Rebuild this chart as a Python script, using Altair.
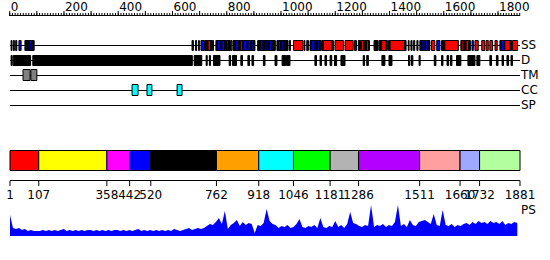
import altair as alt
import pandas as pd

# ---------------- data ----------------
ruler_minor = list(range(0, 1881, 10))
ruler_major = list(range(0, 1881, 100))
ruler_labels = [0, 200, 400, 600, 800, 1000, 1200, 1400, 1600, 1800]

track_names = ["SS", "D", "TM", "CC", "SP"]

ss_start = [5, 13, 22, 34, 56, 64, 74, 87, 672, 685, 696, 705, 720, 731, 747,
            760, 766, 782, 799, 814, 823, 833, 850, 862, 878, 893,
            914, 924, 941, 958, 985, 991, 1001, 1015, 1031, 1046, 1085, 1095,
            1107, 1113, 1135, 1150, 1156, 1199, 1236, 1271, 1285, 1297, 1315,
            1343, 1362, 1371, 1396, 1402, 1469, 1479, 1489, 1501,
            1512, 1519, 1533, 1555, 1574, 1592, 1604, 1663, 1667, 1682,
            1704, 1715, 1740, 1756, 1770, 1789, 1807, 1812, 1825, 1853]
ss_end = [8, 17, 26, 42, 86, 69, 80, 90, 677, 689, 699, 718, 745, 740, 751,
          812, 775, 792, 806, 819, 904, 843, 857, 874, 887, 900,
          979, 933, 948, 967, 1026, 998, 1008, 1018, 1035, 1081, 1088, 1101,
          1147, 1125, 1141, 1193, 1187, 1230, 1266, 1278, 1326, 1304, 1322,
          1358, 1392, 1386, 1461, 1455, 1472, 1483, 1493, 1505,
          1549, 1525, 1540, 1567, 1586, 1653, 1653, 1698, 1674, 1691,
          1709, 1727, 1751, 1764, 1780, 1797, 1850, 1821, 1844, 1872]
ss_type = ["C", "C", "C", "E", "C", "E", "E", "C", "C", "C", "C", "E", "C", "H", "C",
           "C", "E", "E", "E", "H", "C", "E", "H", "E", "E", "E",
           "C", "E", "E", "E", "C", "E", "E", "H", "C", "H", "C", "E",
           "C", "E", "E", "C", "H", "H", "H", "E", "C", "H", "H",
           "C", "C", "H", "C", "H", "C", "C", "C", "C",
           "C", "E", "E", "H", "E", "C", "H", "C", "H", "H",
           "E", "H", "H", "H", "H", "H", "C", "E", "H", "H"]

d_start = [5, 13, 85, 680, 724, 736, 751, 809, 821, 852, 878, 893, 935, 978,
           1004, 1020, 1125, 1144, 1162, 1181, 1197, 1221, 1303, 1316, 1372,
           1398, 1470, 1481, 1509, 1565, 1592, 1612, 1625, 1647, 1689, 1722,
           1770, 1794, 1815, 1833, 1848]
d_end = [9, 77, 673, 708, 728, 740, 775, 814, 836, 858, 884, 899, 941, 985,
         1017, 1033, 1131, 1149, 1168, 1187, 1205, 1236, 1308, 1322, 1383,
         1409, 1475, 1486, 1513, 1571, 1597, 1618, 1630, 1663, 1715, 1733,
         1776, 1800, 1820, 1839, 1853]

tm_start = [49, 78]
tm_end = [75, 100]

cc_start = [451, 506, 617]
cc_end = [473, 524, 635]

dom_bounds = [1, 107, 358, 442, 520, 762, 918, 1046, 1181, 1286, 1511, 1660, 1732, 1881]
dom_names = ["d1", "d2", "d3", "d4", "d5", "d6", "d7", "d8", "d9", "d10", "d11", "d12", "d13"]

ps_pos = list(range(1, 1882, 11))
ps_val = [21, 8, 7, 8, 6, 7, 5, 6, 5, 5, 5, 6, 5, 6, 5, 6, 5, 6, 7, 5,
          6, 5, 6, 5, 6, 5, 6, 6, 5, 6, 5, 6, 5, 6, 5, 6, 6, 5, 6, 5,
          6, 5, 6, 7, 5, 6, 5, 6, 5, 6, 5, 6, 5, 6, 5, 7, 6, 5, 6, 7,
          8, 6, 7, 8, 7, 8, 10, 12, 11, 14, 18, 12, 25, 7, 11, 13, 16, 10, 14, 11,
          13, 12, 3, 11, 10, 13, 27, 15, 12, 11, 8, 10, 9, 11, 8, 9, 12, 17, 9, 8,
          10, 9, 11, 8, 18, 9, 8, 10, 9, 15, 9, 11, 8, 12, 24, 13, 12, 10, 9, 11,
          10, 31, 9, 11, 10, 12, 9, 11, 10, 14, 31, 10, 12, 9, 16, 11, 10, 14, 15, 16,
          14, 12, 22, 11, 10, 26, 11, 10, 12, 9, 11, 10, 12, 13, 11, 14, 12, 15, 13, 14,
          12, 15, 13, 14, 12, 15, 11, 13, 12, 14, 13]

# ---------------- styles / layout ----------------
FONT = "DejaVu Sans"
X = alt.Scale(domain=[1, 1881], range=[10, 520])
track_y = [45.5, 60.5, 75.5, 90.5, 105.5]
label_y = [45, 60, 75, 90, 105]


def xq(f):
    return alt.X(f"{f}:Q", scale=X, axis=None)


def rects(start, end, y0, y1, fill):
    df = pd.DataFrame({"s": start, "e": end})
    return alt.Chart(df).mark_rect(fill=fill, stroke="black", strokeWidth=1).encode(
        x=xq("s"), x2="e:Q", y=alt.value(y0), y2=alt.value(y1))


layers = []

# ruler
layers.append(alt.Chart(pd.DataFrame({"a": [0], "b": [1881]})).mark_rule(color="black").encode(
    x=xq("a"), x2="b:Q", y=alt.value(15.5)))
layers.append(alt.Chart(pd.DataFrame({"p": ruler_minor})).mark_rule(color="black").encode(
    x=xq("p"), y=alt.value(13), y2=alt.value(16)))
layers.append(alt.Chart(pd.DataFrame({"p": ruler_major})).mark_rule(color="black").encode(
    x=xq("p"), y=alt.value(11), y2=alt.value(16)))
layers.append(alt.Chart(pd.DataFrame({"p": ruler_labels})).mark_text(
    align="left", baseline="alphabetic", font=FONT, fontSize=12, dx=1, color="black").encode(
    x=xq("p"), y=alt.value(10.5), text=alt.Text("p:Q", format="d")))

# track lines and labels
for name, ty, ly in zip(track_names, track_y, label_y):
    layers.append(alt.Chart(pd.DataFrame({"a": [1], "b": [1881]})).mark_rule(color="black").encode(
        x=xq("a"), x2="b:Q", y=alt.value(ty)))
    layers.append(alt.Chart(pd.DataFrame({"t": [name]})).mark_text(
        align="left", baseline="middle", font=FONT, fontSize=12, color="black").encode(
        x=alt.value(521), y=alt.value(ly), text="t:N"))

# SS track
ss_df = pd.DataFrame({"s": ss_start, "e": ss_end, "t": ss_type})
layers.append(alt.Chart(ss_df).mark_rect(stroke="black", strokeWidth=1).encode(
    x=xq("s"), x2="e:Q", y=alt.value(40.5), y2=alt.value(50.5),
    fill=alt.Fill("t:N", scale=alt.Scale(domain=["C", "E", "H"],
                                         range=["#000000", "#0000ff", "#ff0000"]), legend=None)))

# D, TM, CC tracks
layers.append(rects(d_start, d_end, 55.5, 65.5, "#000000"))
layers.append(rects(tm_start, tm_end, 69.5, 80.5, "#808080"))
layers.append(rects(cc_start, cc_end, 84.5, 95.5, "#00ffff"))

# domain bar
dom_df = pd.DataFrame({"s": dom_bounds[:-1], "e": dom_bounds[1:], "n": dom_names})
dom_colors = ["#ff0000", "#ffff00", "#ff00ff", "#0000ff", "#000000", "#ff9f00", "#00ffff",
              "#00ff00", "#b3b3b3", "#b300ff", "#ff9f9f", "#9fa8ff", "#b3ff9f"]
layers.append(alt.Chart(dom_df).mark_rect(stroke="black", strokeWidth=1).encode(
    x=xq("s"), x2="e:Q", y=alt.value(150.5), y2=alt.value(170.5),
    color=alt.Color("n:N", scale=alt.Scale(domain=dom_names, range=dom_colors), legend=None)))

# domain axis
layers.append(alt.Chart(pd.DataFrame({"a": [1], "b": [1881]})).mark_rule(color="black").encode(
    x=xq("a"), x2="b:Q", y=alt.value(180.5)))
layers.append(alt.Chart(pd.DataFrame({"p": dom_bounds})).mark_rule(color="black").encode(
    x=xq("p"), y=alt.value(180.5), y2=alt.value(186)))
layers.append(alt.Chart(pd.DataFrame({"p": dom_bounds})).mark_text(
    align="center", baseline="alphabetic", font=FONT, fontSize=12, color="black").encode(
    x=xq("p"), y=alt.value(199), text=alt.Text("p:Q", format="d")))

# PS profile
ps_df = pd.DataFrame({"p": ps_pos, "v": ps_val})
layers.append(alt.Chart(ps_df).mark_area(color="#0000ff", interpolate="linear").encode(
    x=xq("p"), y=alt.Y("v:Q", scale=alt.Scale(domain=[0, 31], range=[236, 205]), axis=None)))
layers.append(alt.Chart(pd.DataFrame({"t": ["PS"]})).mark_text(
    align="left", baseline="middle", font=FONT, fontSize=12, color="black").encode(
    x=alt.value(521), y=alt.value(210), text="t:N"))

chart = alt.layer(*layers).resolve_scale(fill="independent", color="independent").properties(
    width=550, height=260, padding=0, autosize="none", background="white"
).configure_view(stroke=None)

chart.save("out.html", embed_options={"renderer": "svg", "actions": False})
